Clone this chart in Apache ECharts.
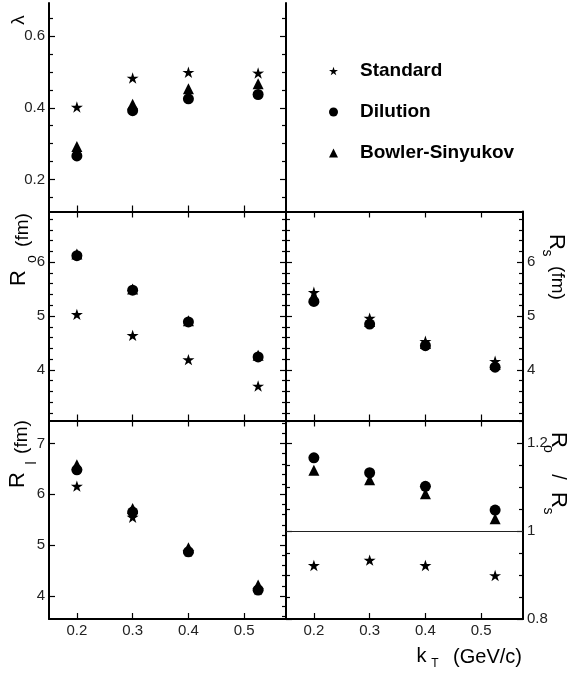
<!DOCTYPE html>
<html><head><meta charset="utf-8">
<script src="https://cdn.jsdelivr.net/npm/echarts@6/dist/echarts.min.js"></script>
<style>html,body{margin:0;padding:0;background:#fff}#c{width:571px;height:673px}</style>
</head><body><div id="c"></div>
<script>
// ---- data ----
const kT = [0.2, 0.3, 0.4, 0.525];
const seriesNames = ['Standard', 'Dilution', 'Bowler-Sinyukov'];

const lambdaStd = [0.402, 0.483, 0.499, 0.497];
const lambdaDil = [0.266, 0.392, 0.425, 0.437];
const lambdaBS  = [0.292, 0.410, 0.453, 0.467];

const roStd = [5.03, 4.64, 4.19, 3.70];
const roDil = [6.12, 5.48, 4.89, 4.24];
const roBS  = [6.15, 5.50, 4.91, 4.27];

const rsStd = [5.44, 4.96, 4.53, 4.16];
const rsDil = [5.27, 4.85, 4.45, 4.05];
const rsBS  = [5.35, 4.90, 4.49, 4.10];

const rlStd = [6.16, 5.55, 4.88, 4.13];
const rlDil = [6.48, 5.65, 4.87, 4.12];
const rlBS  = [6.58, 5.72, 4.95, 4.22];

const ratioStd = [0.922, 0.934, 0.922, 0.899];
const ratioDil = [1.167, 1.133, 1.102, 1.048];
const ratioBS  = [1.139, 1.117, 1.085, 1.028];

// ---- tick labels ----
const xTicks = [0.2, 0.3, 0.4, 0.5];
const lambdaTicks = [0.2, 0.4, 0.6];
const radiusTicks = [4, 5, 6];
const rlTicks = [4, 5, 6, 7];
const ratioTicks = [0.8, 1, 1.2];

function minorTicks(lo, hi, step, majors) {
  const out = [];
  for (let v = lo; v <= hi + 1e-9; v += step) {
    const r = Math.round(v * 1000) / 1000;
    if (!majors.some(m => Math.abs(m - r) < 1e-6)) out.push(r);
  }
  return out;
}

const FONT = '"Liberation Sans", Arial, Helvetica, sans-serif';
const STAR = 'path://M50,0L61.2,34.6L97.6,34.5L68,55.9L79.4,90.5L50,69L20.6,90.5L32,55.9L2.4,34.5L38.8,34.6Z';
const SYMBOLS = [STAR, 'circle', 'triangle'];
const SIZES = [12, 11, 11];

const panels = [
  {grid:{left:49, top:3, width:237, height:208.5}, yMin:0.111, yMax:0.692,
   ticks:lambdaTicks, minorL:minorTicks(0.15, 0.65, 0.05, lambdaTicks), minorR:minorTicks(0.15, 0.65, 0.05, lambdaTicks),
   labelSide:'left', xLabels:false, showTop:false, data:[lambdaStd, lambdaDil, lambdaBS]},
  {grid:{left:49, top:211.5, width:237, height:209}, yMin:3.06, yMax:6.94,
   ticks:radiusTicks, minorL:minorTicks(3.2, 6.8, 0.2, radiusTicks), minorR:minorTicks(3.2, 6.8, 0.2, radiusTicks),
   labelSide:'left', xLabels:false, showTop:true, data:[roStd, roDil, roBS]},
  {grid:{left:286, top:211.5, width:237, height:209}, yMin:3.06, yMax:6.94,
   ticks:radiusTicks, minorL:minorTicks(3.2, 6.8, 0.2, radiusTicks), minorR:minorTicks(3.2, 6.8, 0.2, radiusTicks),
   labelSide:'right', xLabels:false, showTop:true, data:[rsStd, rsDil, rsBS]},
  {grid:{left:49, top:420.5, width:237, height:198.5}, yMin:3.55, yMax:7.45,
   ticks:rlTicks, minorL:[], minorR:minorTicks(3.6, 7.4, 0.2, rlTicks),
   labelSide:'left', xLabels:true, showTop:true, data:[rlStd, rlDil, rlBS]},
  {grid:{left:286, top:420.5, width:237, height:198.5}, yMin:0.8, yMax:1.252,
   ticks:ratioTicks, minorL:minorTicks(0.8, 1.25, 0.05, ratioTicks), minorR:minorTicks(0.8, 1.25, 0.05, ratioTicks),
   labelSide:'right', xLabels:true, showTop:true, data:[ratioStd, ratioDil, ratioBS], unity:true}
];

const grid = [], xAxis = [], yAxis = [], series = [];
const line = () => ({color:'#000', width:2});
const tick = () => ({color:'#000', width:1.2});
const label = (o) => Object.assign({color:'#222', fontSize:15, fontFamily:FONT}, o);

panels.forEach((p, i) => {
  grid.push(Object.assign({containLabel:false}, p.grid));
  xAxis.push({gridIndex:i, type:'value', min:0.15, max:0.575, position:'bottom',
    axisLine:{show:true, onZero:false, lineStyle:line()},
    axisTick:{show:true, inside:true, length:6, customValues:xTicks.slice(), lineStyle:tick()},
    axisLabel:label({show:p.xLabels, customValues:xTicks.slice(), margin:4}),
    splitLine:{show:false}});
  xAxis.push({gridIndex:i, type:'value', min:0.15, max:0.575, position:'top',
    axisLine:{show:p.showTop, onZero:false, lineStyle:line()},
    axisTick:{show:p.showTop, inside:true, length:6, customValues:xTicks.slice(), lineStyle:tick()},
    axisLabel:{show:false}, splitLine:{show:false}});
  ['left', 'right'].forEach(side => {
    yAxis.push({gridIndex:i, type:'value', min:p.yMin, max:p.yMax, position:side,
      axisLine:{show:true, onZero:false, lineStyle:line()},
      axisTick:{show:true, inside:true, length:6, customValues:p.ticks.slice(), lineStyle:tick()},
      axisLabel:label({show:p.labelSide === side, customValues:p.ticks.slice(), margin:4}),
      splitLine:{show:false}});
    const minor = side === 'left' ? p.minorL : p.minorR;
    yAxis.push({gridIndex:i, type:'value', min:p.yMin, max:p.yMax, position:side,
      axisLine:{show:false},
      axisTick:{show:minor.length > 0, inside:true, length:4, customValues:minor.length ? minor.slice() : [p.yMax], lineStyle:tick()},
      axisLabel:{show:false}, splitLine:{show:false}});
  });
  const yIdx = 4 * i + (p.labelSide === 'right' ? 2 : 0);
  p.data.forEach((arr, k) => {
    const s = {
      name: seriesNames[k], type:'scatter', xAxisIndex:2 * i, yAxisIndex:yIdx,
      symbol: SYMBOLS[k], symbolSize: SIZES[k], symbolKeepAspect:true,
      itemStyle:{color:'#000', opacity:1}, z: 3 + k,
      emphasis:{disabled:true},
      data: kT.map((x, j) => [x, arr[j]])
    };
    if (p.unity && k === 0) {
      s.markLine = {silent:true, symbol:'none', label:{show:false}, animation:false,
        lineStyle:{color:'#222', width:1.2, type:'solid', opacity:1}, data:[{yAxis:1}]};
    }
    series.push(s);
  });
});

function txt(text, x, y, size, rot) {
  return {type:'text', x:x, y:y, rotation:rot || 0, z:100,
    style:{text:text, font: size + 'px ' + FONT, fill:'#000',
      align:'center', verticalAlign:'middle', textAlign:'center', textVerticalAlign:'middle'}};
}
const L = Math.PI / 2, R = -Math.PI / 2;
const graphic = [
  txt('λ', 19, 20, 19, L),
  // R_o (fm)
  txt('(fm)', 23, 230, 19, L), txt('o', 32, 259, 14, L), txt('R', 19, 278, 22, L),
  // R_l (fm)
  txt('(fm)', 22, 437, 19, L), txt('l', 32, 463, 14, L), txt('R', 18, 480, 22, L),
  // R_s (fm)
  txt('R', 556, 242, 22, R), txt('s', 547, 253, 14, R), txt('(fm)', 557, 283, 19, R),
  // R_o / R_s
  txt('R', 558, 440, 22, R), txt('o', 548, 449, 14, R), txt('/', 558, 477, 20, R),
  txt('R', 558, 500, 22, R), txt('s', 548, 511, 14, R),
  // k_T (GeV/c)
  txt('k', 421.5, 656, 20, 0), txt('T', 435, 664, 12, 0),
  txt('(GeV/c)', 487.5, 657, 20, 0)
];

const chart = echarts.init(document.getElementById('c'), null, {renderer:'canvas'});
chart.setOption({
  backgroundColor:'#fff',
  animation:false,
  grid, xAxis, yAxis, series, graphic,
  legend:{orient:'vertical', left:324, top:56, itemWidth:9, itemHeight:9, itemGap:21,
    selectedMode:false, data:seriesNames,
    itemStyle:{opacity:1},
    textStyle:{fontSize:19, fontWeight:'bold', color:'#000', fontFamily:FONT, lineHeight:20, padding:[0,0,0,17]}}
});
</script>
</body></html>
